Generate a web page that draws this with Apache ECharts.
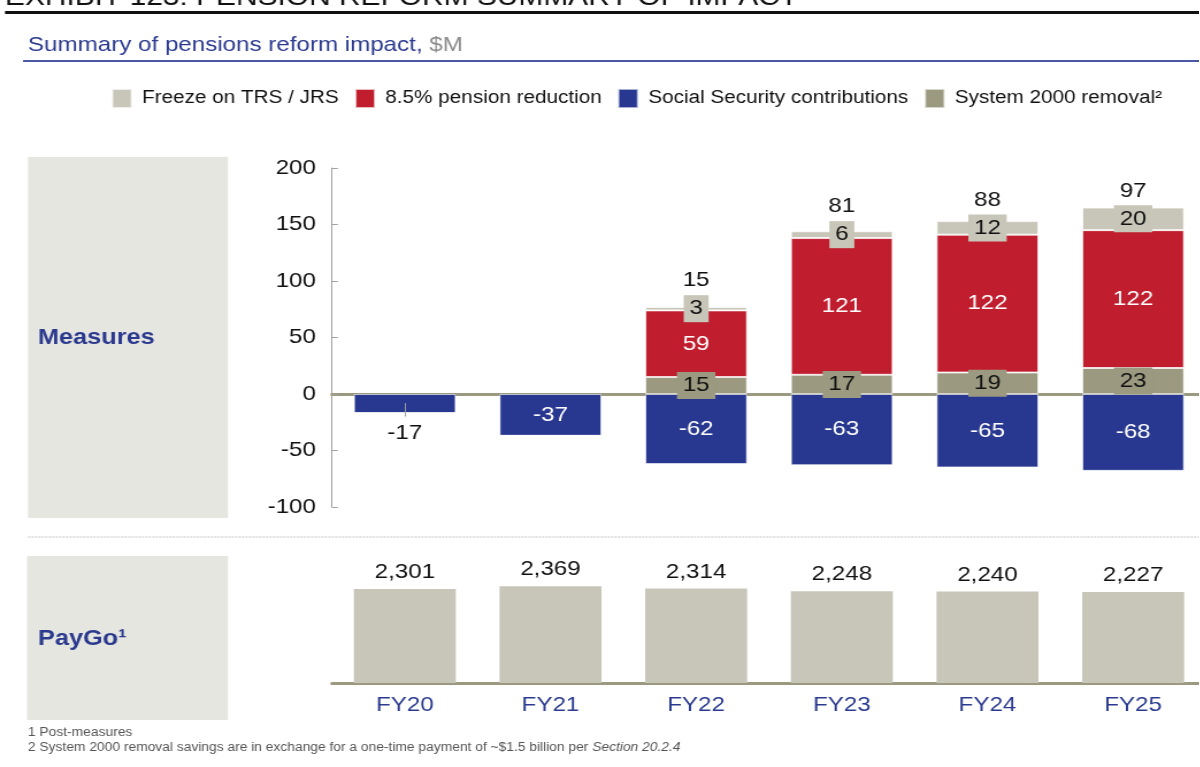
<!DOCTYPE html>
<html>
<head>
<meta charset="utf-8">
<script src="https://cdn.jsdelivr.net/npm/echarts@6/dist/echarts.min.js"></script>
<style>
  html, body { margin: 0; padding: 0; background: #fff; overflow: hidden; }
  #wrap { width: 1200px; height: 767px; overflow: hidden; }
  #chart { height: 767px; transform-origin: 0 0; }
</style>
</head>
<body>
<div id="wrap"><div id="chart"></div></div>
<script>
// Fiscal years shown on both panels
const years = ['FY20', 'FY21', 'FY22', 'FY23', 'FY24', 'FY25'];

// Measures panel, $M
const socialSecurity = [-17, -37, -62, -63, -65, -68];
const system2000 = [0, 0, 15, 17, 19, 23];
const pensionCut = [0, 0, 59, 121, 122, 122];
const freezeTrsJrs = [0, 0, 3, 6, 12, 20];

// PayGo panel (post-measures), $M
const payGo = [2301, 2369, 2314, 2248, 2240, 2227];

// Measures axis ticks
const measureMin = -100;
const measureMax = 200;
const measureStep = 50;

const seriesNames = {
  freeze: 'Freeze on TRS / JRS',
  cut: '8.5% pension reduction',
  ss: 'Social Security contributions',
  s2000: 'System 2000 removal\u00b2'
};

// The exhibit uses a wide-set face: draw on a narrower canvas and widen it
const SX = 1.15;
const X = v => v / SX;
const el = document.getElementById('chart');
el.style.width = X(1200) + 'px';
el.style.transform = 'scaleX(' + SX + ')';

const FONT = "'Liberation Sans', Arial, sans-serif";
const C = {
  blue: '#283890',
  red: '#c01e2e',
  olive: '#9b9a80',
  light: '#c8c6b9',
  panel: '#e6e6e1',
  navy: '#2b3a8f'
};

// Net impact per year, shown above the stacks where measures apply
const netTotals = years.map((_, i) => socialSecurity[i] + system2000[i] + pensionCut[i] + freezeTrsJrs[i]);
// Anchor for the net label: middle of the top (freeze) segment
const netAnchor = years.map((y, i) =>
  (system2000[i] + pensionCut[i] + freezeTrsJrs[i]) > 0
    ? [y, system2000[i] + pensionCut[i] + freezeTrsJrs[i] / 2, netTotals[i]]
    : null
).filter(Boolean);

function boxedItems(values, bg) {
  return values.map(v => ({
    value: v,
    label: v === 0 ? { show: false } : {
      show: true, position: 'inside', color: '#111', fontSize: 21, fontFamily: FONT,
      backgroundColor: bg, padding: [3, 5, 2, 5], lineHeight: 22
    }
  }));
}

const ssItems = socialSecurity.map((v, i) => i === 0
  ? { value: v, label: { show: true, position: 'bottom', distance: 9, color: '#111' } }
  : { value: v });

const chart = echarts.init(el);

const gridBase = { left: X(332), width: X(874), containLabel: false, outerBoundsMode: 'none' };

chart.setOption({
  animation: false,
  backgroundColor: '#fff',
  textStyle: { fontFamily: FONT },
  legend: {
    left: X(111), top: 88, padding: 0,
    itemWidth: 17, itemHeight: 19, itemGap: 13.5,
    icon: 'rect',
    selectedMode: false,
    textStyle: { fontSize: 18, color: '#111', fontFamily: FONT, padding: [0, 0, 0, 4] },
    data: [seriesNames.freeze, seriesNames.cut, seriesNames.ss, seriesNames.s2000]
  },
  grid: [
    Object.assign({ top: 168, height: 339 }, gridBase),
    Object.assign({ top: 564.5, height: 118.5 }, gridBase)
  ],
  xAxis: [
    {
      type: 'category', gridIndex: 0, data: years,
      axisLine: { onZero: true, lineStyle: { color: C.olive, width: 3 } },
      axisTick: { show: false }, axisLabel: { show: false }, splitLine: { show: false }
    },
    {
      type: 'category', gridIndex: 1, data: years,
      axisLine: { lineStyle: { color: C.olive, width: 3 } },
      axisTick: { show: false },
      axisLabel: { color: C.navy, fontSize: 21, fontFamily: FONT, margin: 12 }
    }
  ],
  yAxis: [
    {
      type: 'value', gridIndex: 0, min: measureMin, max: measureMax, interval: measureStep,
      axisLine: { show: true, lineStyle: { color: '#a0a0a0', width: 1 } },
      axisTick: { show: true, inside: true, length: 5, lineStyle: { color: '#a0a0a0' } },
      axisLabel: { color: '#111', fontSize: 21, fontFamily: FONT, margin: 14 },
      splitLine: { show: false }
    },
    { type: 'value', gridIndex: 1, min: 0, max: 2900, show: false, splitLine: { show: false } }
  ],
  series: [
    {
      name: seriesNames.ss, type: 'bar', stack: 'm', xAxisIndex: 0, yAxisIndex: 0,
      barCategoryGap: '30%',
      itemStyle: { color: C.blue, borderColor: 'rgba(255,255,255,0.6)', borderWidth: 1 },
      label: { show: true, position: 'inside', color: '#fff', fontSize: 21, fontFamily: FONT },
      data: ssItems,
      markLine: {
        silent: true, symbol: 'none', label: { show: false },
        lineStyle: { color: '#9a9a9a', width: 1, type: 'solid' },
        data: [[{ coord: ['FY20', -8] }, { coord: ['FY20', -20] }]]
      }
    },
    {
      name: seriesNames.s2000, type: 'bar', stack: 'm', xAxisIndex: 0, yAxisIndex: 0,
      itemStyle: { color: C.olive, borderColor: 'rgba(255,255,255,0.6)', borderWidth: 1 },
      data: boxedItems(system2000, C.olive)
    },
    {
      name: seriesNames.cut, type: 'bar', stack: 'm', xAxisIndex: 0, yAxisIndex: 0,
      itemStyle: { color: C.red, borderColor: 'rgba(255,255,255,0.7)', borderWidth: 1 },
      label: { show: true, position: 'inside', color: '#fff', fontSize: 21, fontFamily: FONT,
        formatter: p => (p.value === 0 ? '' : p.value) },
      data: pensionCut
    },
    {
      name: seriesNames.freeze, type: 'bar', stack: 'm', xAxisIndex: 0, yAxisIndex: 0,
      itemStyle: { color: C.light, borderColor: 'rgba(255,255,255,0.7)', borderWidth: 1 },
      data: boxedItems(freezeTrsJrs, C.light)
    },
    {
      name: 'Net impact', type: 'scatter', xAxisIndex: 0, yAxisIndex: 0,
      symbolSize: 0, silent: true,
      encode: { x: 0, y: 1 },
      itemStyle: { opacity: 1 },
      label: {
        show: true, position: 'inside', offset: [0, -28], color: '#111', opacity: 1,
        fontSize: 21, fontFamily: FONT,
        formatter: p => String(p.value[2])
      },
      data: netAnchor
    },
    {
      name: 'PayGo', type: 'bar', xAxisIndex: 1, yAxisIndex: 1,
      barCategoryGap: '30%',
      itemStyle: { color: C.light },
      label: {
        show: true, position: 'top', distance: 6, color: '#111', fontSize: 21, fontFamily: FONT,
        formatter: p => p.value.toLocaleString('en-US')
      },
      data: payGo
    }
  ],
  graphic: [
    // exhibit header, cut off by the top edge
    { type: 'text', left: X(5), top: -15, silent: true,
      style: { text: 'EXHIBIT 123: PENSION REFORM SUMMARY OF IMPACT', fill: '#111', font: "26px " + FONT } },
    { type: 'rect', silent: true, shape: { x: X(5), y: 11, width: X(1195), height: 3 }, style: { fill: '#111' } },
    // chart title
    { type: 'text', left: X(28), top: 35, silent: true,
      style: {
        text: '{a|Summary of pensions reform impact, }{b|$M}',
        rich: {
          a: { fill: C.navy, fontSize: 21, fontFamily: FONT },
          b: { fill: '#8c8c8c', fontSize: 21, fontFamily: FONT }
        }
      } },
    { type: 'rect', silent: true, shape: { x: X(23), y: 60, width: X(1177), height: 2 }, style: { fill: '#4a58a8' } },
    // panel side labels
    { type: 'rect', silent: true, z: -10, shape: { x: X(28), y: 157, width: X(200), height: 361 }, style: { fill: C.panel } },
    { type: 'text', left: X(38), top: 327, silent: true,
      style: { text: 'Measures', fill: C.navy, font: "bold 22px " + FONT } },
    { type: 'rect', silent: true, z: -10, shape: { x: X(27), y: 556, width: X(201), height: 164 }, style: { fill: C.panel } },
    { type: 'text', left: X(38), top: 628, silent: true,
      style: { text: 'PayGo\u00b9', fill: C.navy, font: "bold 22px " + FONT } },
    // divider between panels
    { type: 'line', silent: true, shape: { x1: X(28), y1: 537, x2: X(1200), y2: 537 },
      style: { stroke: '#c4c4c4', lineWidth: 1, lineDash: [2, 1] } },
    // footnotes
    { type: 'text', left: X(28), top: 727, silent: true,
      style: { text: '1 Post-measures', fill: '#555', font: "12px " + FONT } },
    { type: 'text', left: X(28), top: 742, silent: true,
      style: {
        text: '{n|2 System 2000 removal savings are in exchange for a one-time payment of ~$1.5 billion per }{i|Section 20.2.4}',
        rich: {
          n: { fill: '#555', fontSize: 12, fontFamily: FONT },
          i: { fill: '#555', fontSize: 12, fontFamily: FONT, fontStyle: 'italic' }
        }
      } }
  ]
});
</script>
</body>
</html>
